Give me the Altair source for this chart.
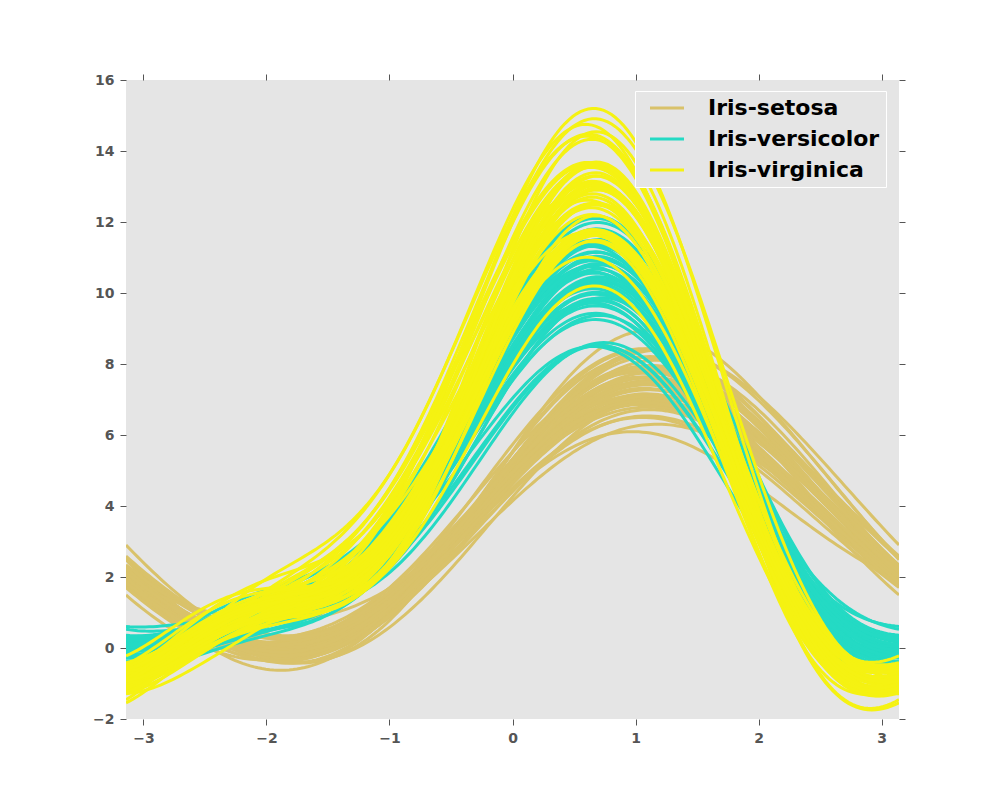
import math
import altair as alt
import pandas as pd

# Iris measurements (Fisher / UCI), 50 rows per species
sepal_length = [
    5.1, 4.9, 4.7, 4.6, 5.0, 5.4, 4.6, 5.0, 4.4, 4.9, 5.4, 4.8, 4.8, 4.3, 5.8, 5.7, 5.4, 5.1, 5.7, 5.1,
    5.4, 5.1, 4.6, 5.1, 4.8, 5.0, 5.0, 5.2, 5.2, 4.7, 4.8, 5.4, 5.2, 5.5, 4.9, 5.0, 5.5, 4.9, 4.4, 5.1,
    5.0, 4.5, 4.4, 5.0, 5.1, 4.8, 5.1, 4.6, 5.3, 5.0,
    7.0, 6.4, 6.9, 5.5, 6.5, 5.7, 6.3, 4.9, 6.6, 5.2, 5.0, 5.9, 6.0, 6.1, 5.6, 6.7, 5.6, 5.8, 6.2, 5.6,
    5.9, 6.1, 6.3, 6.1, 6.4, 6.6, 6.8, 6.7, 6.0, 5.7, 5.5, 5.5, 5.8, 6.0, 5.4, 6.0, 6.7, 6.3, 5.6, 5.5,
    5.5, 6.1, 5.8, 5.0, 5.6, 5.7, 5.7, 6.2, 5.1, 5.7,
    6.3, 5.8, 7.1, 6.3, 6.5, 7.6, 4.9, 7.3, 6.7, 7.2, 6.5, 6.4, 6.8, 5.7, 5.8, 6.4, 6.5, 7.7, 7.7, 6.0,
    6.9, 5.6, 7.7, 6.3, 6.7, 7.2, 6.2, 6.1, 6.4, 7.2, 7.4, 7.9, 6.4, 6.3, 6.1, 7.7, 6.3, 6.4, 6.0, 6.9,
    6.7, 6.9, 5.8, 6.8, 6.7, 6.7, 6.3, 6.5, 6.2, 5.9,
]
sepal_width = [
    3.5, 3.0, 3.2, 3.1, 3.6, 3.9, 3.4, 3.4, 2.9, 3.1, 3.7, 3.4, 3.0, 3.0, 4.0, 4.4, 3.9, 3.5, 3.8, 3.8,
    3.4, 3.7, 3.6, 3.3, 3.4, 3.0, 3.4, 3.5, 3.4, 3.2, 3.1, 3.4, 4.1, 4.2, 3.1, 3.2, 3.5, 3.1, 3.0, 3.4,
    3.5, 2.3, 3.2, 3.5, 3.8, 3.0, 3.8, 3.2, 3.7, 3.3,
    3.2, 3.2, 3.1, 2.3, 2.8, 2.8, 3.3, 2.4, 2.9, 2.7, 2.0, 3.0, 2.2, 2.9, 2.9, 3.1, 3.0, 2.7, 2.2, 2.5,
    3.2, 2.8, 2.5, 2.8, 2.9, 3.0, 2.8, 3.0, 2.9, 2.6, 2.4, 2.4, 2.7, 2.7, 3.0, 3.4, 3.1, 2.3, 3.0, 2.5,
    2.6, 3.0, 2.6, 2.3, 2.7, 3.0, 2.9, 2.9, 2.5, 2.8,
    3.3, 2.7, 3.0, 2.9, 3.0, 3.0, 2.5, 2.9, 2.5, 3.6, 3.2, 2.7, 3.0, 2.5, 2.8, 3.2, 3.0, 3.8, 2.6, 2.2,
    3.2, 2.8, 2.8, 2.7, 3.3, 3.2, 2.8, 3.0, 2.8, 3.0, 2.8, 3.8, 2.8, 2.8, 2.6, 3.0, 3.4, 3.1, 3.0, 3.1,
    3.1, 3.1, 2.7, 3.2, 3.3, 3.0, 2.5, 3.0, 3.4, 3.0,
]
petal_length = [
    1.4, 1.4, 1.3, 1.5, 1.4, 1.7, 1.4, 1.5, 1.4, 1.5, 1.5, 1.6, 1.4, 1.1, 1.2, 1.5, 1.3, 1.4, 1.7, 1.5,
    1.7, 1.5, 1.0, 1.7, 1.9, 1.6, 1.6, 1.5, 1.4, 1.6, 1.6, 1.5, 1.5, 1.4, 1.5, 1.2, 1.3, 1.5, 1.3, 1.5,
    1.3, 1.3, 1.3, 1.6, 1.9, 1.4, 1.6, 1.4, 1.5, 1.4,
    4.7, 4.5, 4.9, 4.0, 4.6, 4.5, 4.7, 3.3, 4.6, 3.9, 3.5, 4.2, 4.0, 4.7, 3.6, 4.4, 4.5, 4.1, 4.5, 3.9,
    4.8, 4.0, 4.9, 4.7, 4.3, 4.4, 4.8, 5.0, 4.5, 3.5, 3.8, 3.7, 3.9, 5.1, 4.5, 4.5, 4.7, 4.4, 4.1, 4.0,
    4.4, 4.6, 4.0, 3.3, 4.2, 4.2, 4.2, 4.3, 3.0, 4.1,
    6.0, 5.1, 5.9, 5.6, 5.8, 6.6, 4.5, 6.3, 5.8, 6.1, 5.1, 5.3, 5.5, 5.0, 5.1, 5.3, 5.5, 6.7, 6.9, 5.0,
    5.7, 4.9, 6.7, 4.9, 5.7, 6.0, 4.8, 4.9, 5.6, 5.8, 6.1, 6.4, 5.6, 5.1, 5.6, 6.1, 5.6, 5.5, 4.8, 5.4,
    5.6, 5.1, 5.1, 5.9, 5.7, 5.2, 5.0, 5.2, 5.4, 5.1,
]
petal_width = [
    0.2, 0.2, 0.2, 0.2, 0.2, 0.4, 0.3, 0.2, 0.2, 0.1, 0.2, 0.2, 0.1, 0.1, 0.2, 0.4, 0.4, 0.3, 0.3, 0.3,
    0.2, 0.4, 0.2, 0.5, 0.2, 0.2, 0.4, 0.2, 0.2, 0.2, 0.2, 0.4, 0.1, 0.2, 0.1, 0.2, 0.2, 0.1, 0.2, 0.2,
    0.3, 0.3, 0.2, 0.6, 0.4, 0.3, 0.2, 0.2, 0.2, 0.2,
    1.4, 1.5, 1.5, 1.3, 1.5, 1.3, 1.6, 1.0, 1.3, 1.4, 1.0, 1.5, 1.0, 1.4, 1.3, 1.4, 1.5, 1.0, 1.5, 1.1,
    1.8, 1.3, 1.5, 1.2, 1.3, 1.4, 1.4, 1.7, 1.5, 1.0, 1.1, 1.0, 1.2, 1.6, 1.5, 1.6, 1.5, 1.3, 1.3, 1.3,
    1.2, 1.4, 1.2, 1.0, 1.3, 1.2, 1.3, 1.3, 1.1, 1.3,
    2.5, 1.9, 2.1, 1.8, 2.2, 2.1, 1.7, 1.8, 1.8, 2.5, 2.0, 1.9, 2.1, 2.0, 2.4, 2.3, 1.8, 2.2, 2.3, 1.5,
    2.3, 2.0, 2.0, 1.8, 2.1, 1.8, 1.8, 1.8, 2.1, 1.6, 1.9, 2.0, 2.2, 1.5, 1.4, 2.3, 2.4, 1.8, 1.8, 2.1,
    2.4, 2.3, 1.9, 2.3, 2.5, 2.3, 1.9, 2.0, 2.3, 1.8,
]
species_names = ["Iris-setosa", "Iris-versicolor", "Iris-virginica"]
species_counts = [50, 50, 50]
species_colors = ["#D9C26A", "#24DAC4", "#F5F212"]
x_ticks = [-3, -2, -1, 0, 1, 2, 3]
y_ticks = [-2, 0, 2, 4, 6, 8, 10, 12, 14, 16]
n_samples = 200

species = [n for n, c in zip(species_names, species_counts) for _ in range(c)]
df = pd.DataFrame({
    "sl": sepal_length, "sw": sepal_width, "pl": petal_length, "pw": petal_width,
    "species": species,
})
df["rid"] = range(len(df))

base = (
    alt.Chart(df)
    .transform_calculate(k=f"sequence(0, {n_samples})")
    .transform_flatten(["k"])
    .transform_calculate(t=f"-PI + datum.k * 2 * PI / {n_samples - 1}")
    .transform_calculate(
        f="datum.sl / SQRT2 + datum.sw * sin(datum.t) + datum.pl * cos(datum.t) + datum.pw * sin(2 * datum.t)"
    )
)

xs = alt.Scale(domain=[-math.pi, math.pi], nice=False, zero=False)
ys = alt.Scale(domain=[-2, 16], nice=False, zero=False)
cs = alt.Scale(domain=species_names, range=species_colors)

common_axis = dict(
    domain=False, grid=False, tickColor="#555555", tickSize=6, tickWidth=1,
    labelFont="DejaVu Sans", labelFontWeight="bold", labelFontSize=14, labelColor="#555555",
    title=None,
)
x_bottom = alt.Axis(orient="bottom", values=x_ticks, labelPadding=6, **common_axis)
y_left = alt.Axis(orient="left", values=y_ticks, labelPadding=6, **common_axis)
x_top = alt.Axis(orient="top", values=x_ticks, labels=False, **common_axis)
y_right = alt.Axis(orient="right", values=y_ticks, labels=False, **common_axis)

layers = []
for i, s in enumerate(species_names):
    layers.append(
        base.transform_filter(alt.datum.species == s)
        .mark_line(strokeWidth=3, clip=True)
        .encode(
            x=alt.X("t:Q", scale=xs, axis=x_bottom if i == 0 else None),
            y=alt.Y("f:Q", scale=ys, axis=y_left if i == 0 else None),
            color=alt.Color("species:N", scale=cs, legend=alt.Legend(title=None)),
            detail="rid:N",
            order="k:Q",
        )
    )

axes_layer = (
    base.transform_filter("datum.k == 0 && datum.rid == 0")
    .mark_point(opacity=0)
    .encode(
        x=alt.X("t:Q", scale=xs, axis=x_top),
        y=alt.Y("f:Q", scale=ys, axis=y_right),
    )
)

chart = (
    alt.layer(*layers, axes_layer)
    .resolve_axis(x="independent", y="independent")
    .properties(
        width=773,
        height=639,
        autosize=alt.AutoSizeParams(type="none"),
        padding={"left": 118, "top": 72, "right": 93, "bottom": 73},
    )
    .configure_view(fill="#E5E5E5", strokeWidth=0)
    .configure_legend(
        orient="none",
        legendX=509,
        legendY=11,
        fillColor="#E5E5E5",
        strokeColor="#FFFFFF",
        padding=6,
        symbolType="M-0.5,0L8,0",
        symbolStrokeWidth=3,
        symbolSize=64,
        labelFont="DejaVu Sans",
        labelFontWeight="bold",
        labelFontSize=22,
        labelColor="#000000",
        labelOffset=45,
        rowPadding=9,
        labelLimit=400,
    )
)

chart.save("out.html", embed_options={"renderer": "svg", "actions": False})
